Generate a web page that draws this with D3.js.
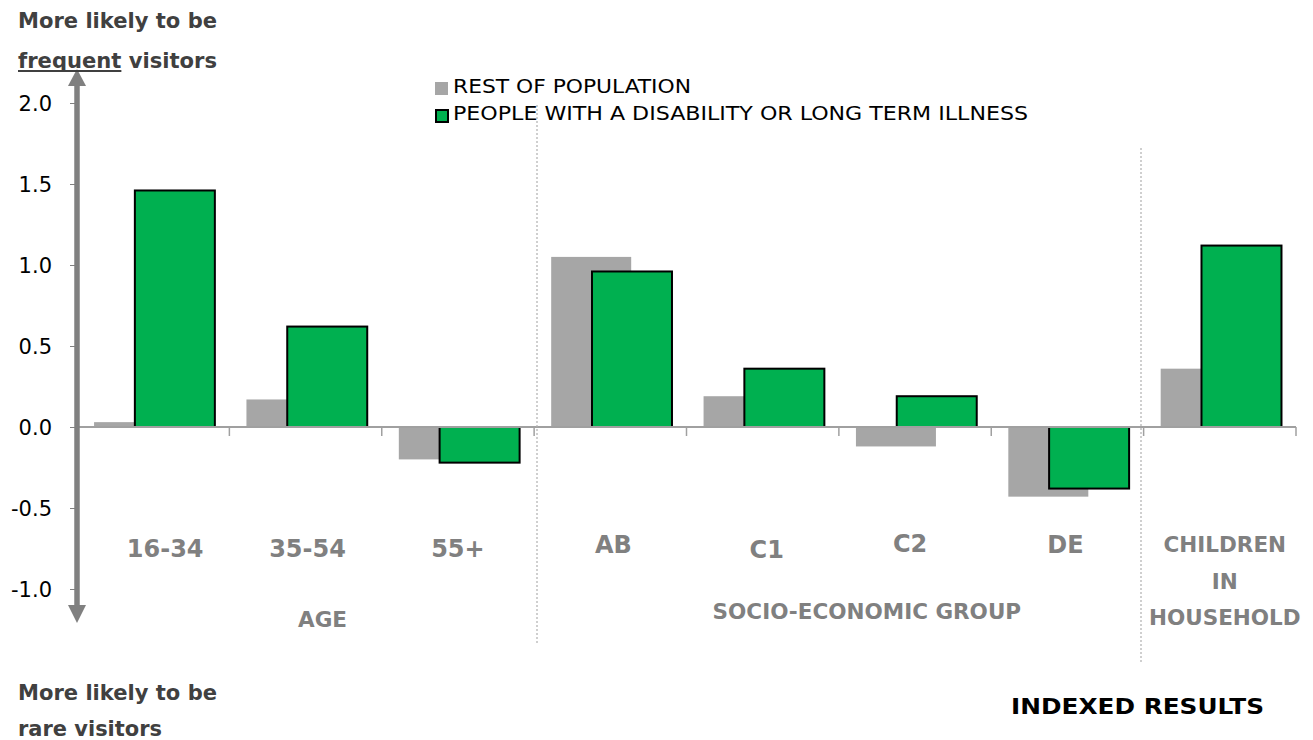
<!DOCTYPE html>
<html>
<head>
<meta charset="utf-8">
<script src="https://cdn.jsdelivr.net/npm/d3@7"></script>
<style>
  html, body { margin: 0; padding: 0; background: #fff; }
  svg { display: block; }
</style>
</head>
<body>
<svg id="chart" width="1313" height="740"></svg>
<script>
// Categories along the x axis (line breaks split with "|")
const categories = ["16-34", "35-54", "55+", "AB", "C1", "C2", "DE", "CHILDREN|IN|HOUSEHOLD"];
// Indexed scores per category
const restOfPopulation = [0.03, 0.17, -0.20, 1.05, 0.19, -0.12, -0.43, 0.36];
const disabilityOrIllness = [1.46, 0.62, -0.22, 0.96, 0.36, 0.19, -0.38, 1.12];
const seriesNames = ["REST OF POPULATION", "PEOPLE WITH A DISABILITY OR LONG TERM ILLNESS"];
const yTicks = [2.0, 1.5, 1.0, 0.5, 0.0, -0.5, -1.0];
// Group headings spanning several categories: [label, first index, last index]
const groups = [["AGE", 0, 2], ["SOCIO-ECONOMIC GROUP", 3, 6]];
// Per-category label nudges (labels sit slightly staggered)
const labelDx = [12, 2, 0, 3, 4, -5, -2, 5];
const labelDy = [0, 0, 0, -4, 1, -5, -4, 0];

const svg = d3.select("#chart");
const font = "'DejaVu Sans', Verdana, sans-serif";
const grayFill = "#a6a6a6";
const greenFill = "#00b050";
const axisGray = "#808080";

const x = d3.scaleBand().domain(categories).range([77, 1296]).paddingInner(0).paddingOuter(0);
const y = d3.scaleLinear().domain([-1.0, 2.0]).range([589, 103]);

const barW = x.bandwidth() * 0.525;
const offset = barW * 0.51;
const startPad = x.bandwidth() * 0.112;

// Rest-of-population bars (behind)
svg.append("g").selectAll("rect")
  .data(restOfPopulation)
  .join("rect")
  .attr("x", (d, i) => x(categories[i]) + startPad)
  .attr("y", d => y(Math.max(0, d)))
  .attr("width", barW)
  .attr("height", d => Math.abs(y(d) - y(0)))
  .attr("fill", grayFill);

// Disability / long-term illness bars (front)
svg.append("g").selectAll("rect")
  .data(disabilityOrIllness)
  .join("rect")
  .attr("x", (d, i) => x(categories[i]) + startPad + offset)
  .attr("y", d => y(Math.max(0, d)))
  .attr("width", barW)
  .attr("height", d => Math.abs(y(d) - y(0)))
  .attr("fill", greenFill)
  .attr("stroke", "#000")
  .attr("stroke-width", 2);

// Category axis at zero with boundary ticks
const xAxisG = svg.append("g");
xAxisG.append("line")
  .attr("x1", 77).attr("x2", 1296)
  .attr("y1", y(0)).attr("y2", y(0))
  .attr("stroke", "#a0a0a0").attr("stroke-width", 2);
const boundaries = categories.map(c => x(c) + x.bandwidth());
xAxisG.selectAll("line.tick")
  .data(boundaries)
  .join("line")
  .attr("class", "tick")
  .attr("x1", d => d).attr("x2", d => d)
  .attr("y1", y(0)).attr("y2", y(0) + 9)
  .attr("stroke", "#a0a0a0").attr("stroke-width", 1.5);

// Dotted group separators
svg.append("line")
  .attr("x1", 537).attr("x2", 537).attr("y1", 105).attr("y2", 643)
  .attr("stroke", "#b0b0b0").attr("stroke-width", 1.2).attr("stroke-dasharray", "2,2");
svg.append("line")
  .attr("x1", 1141).attr("x2", 1141).attr("y1", 148).attr("y2", 662)
  .attr("stroke", "#b0b0b0").attr("stroke-width", 1.2).attr("stroke-dasharray", "2,2");

// Value axis: labels and small ticks
const yAxis = d3.axisLeft(y).tickValues(yTicks).tickFormat(d => d.toFixed(1)).tickSize(6).tickPadding(18);
const yG = svg.append("g").attr("transform", "translate(76,0)").call(yAxis);
yG.select(".domain").remove();
yG.selectAll(".tick line").attr("stroke", axisGray);
yG.selectAll(".tick text")
  .attr("font-family", font).attr("font-size", 21).attr("fill", "#000")
  .attr("dy", "0.36em");

// Double-headed arrow along the value axis
svg.append("line")
  .attr("x1", 77).attr("x2", 77).attr("y1", 84).attr("y2", 606)
  .attr("stroke", axisGray).attr("stroke-width", 5.5);
svg.append("path")
  .attr("d", "M77,69 L68,86 L86,86 Z").attr("fill", axisGray);
svg.append("path")
  .attr("d", "M77,623 L68,605 L86,605 Z").attr("fill", axisGray);

// Category labels
categories.forEach((c, i) => {
  const lines = c.split("|");
  const cx = x(c) + x.bandwidth() / 2 + labelDx[i];
  const t = svg.append("text")
    .attr("x", cx)
    .attr("y", (lines.length > 1 ? 552 : 557) + labelDy[i])
    .attr("text-anchor", "middle")
    .attr("font-family", font).attr("font-weight", "bold")
    .attr("font-size", lines.length > 1 ? 21.5 : 24)
    .attr("fill", axisGray);
  lines.forEach((ln, k) => {
    t.append("tspan").attr("x", cx).attr("dy", k === 0 ? 0 : 36.5).text(ln);
  });
});

// Group headings
const groupDx = [17, 28];
groups.forEach(([label, a, b], gi) => {
  const cx = (x(categories[a]) + x(categories[b]) + x.bandwidth()) / 2 + groupDx[gi];
  svg.append("text")
    .attr("x", cx)
    .attr("y", a === 0 ? 627 : 619)
    .attr("text-anchor", "middle")
    .attr("font-family", font).attr("font-weight", "bold")
    .attr("font-size", 21.5).attr("fill", axisGray)
    .text(label);
});

// Legend
const legend = svg.append("g");
const legendBase = [93, 120];
legend.append("rect").attr("x", 435).attr("y", 82).attr("width", 13).attr("height", 13).attr("fill", grayFill);
legend.append("rect").attr("x", 436).attr("y", 110).attr("width", 12).attr("height", 12)
  .attr("fill", greenFill).attr("stroke", "#000").attr("stroke-width", 2);
seriesNames.forEach((n, i) => {
  legend.append("text")
    .attr("x", 453).attr("y", legendBase[i])
    .attr("font-family", "'DejaVu Sans Condensed', 'Liberation Sans Narrow', sans-serif")
    .attr("font-size", 20).attr("fill", "#000")
    .attr("textLength", i === 0 ? 238 : 575).attr("lengthAdjust", "spacingAndGlyphs")
    .text(n);
});

// Direction notes
const noteColor = "#404040";
function note(txt, yPos, width) {
  const t = svg.append("text").attr("x", 18).attr("y", yPos)
    .attr("font-family", font).attr("font-weight", "bold").attr("font-size", 21).attr("fill", noteColor)
    .text(txt);
  t.attr("textLength", width).attr("lengthAdjust", "spacingAndGlyphs");
  return t;
}
note("More likely to be", 28, 199);

const freq = svg.append("text").attr("x", 18).attr("y", 68)
  .attr("font-family", font).attr("font-weight", "bold").attr("font-size", 21).attr("fill", noteColor);
const freqWord = freq.append("tspan").text("frequent");
freq.append("tspan").text(" visitors");
const fullW = freq.node().getComputedTextLength();
const wordW = freqWord.node().getComputedTextLength();
const squeeze = 199 / fullW;
freq.attr("textLength", 199).attr("lengthAdjust", "spacingAndGlyphs");
svg.append("line").attr("x1", 18).attr("x2", 18 + wordW * squeeze).attr("y1", 71).attr("y2", 71)
  .attr("stroke", noteColor).attr("stroke-width", 2);

note("More likely to be", 700, 199);
note("rare visitors", 736, 144);

svg.append("text").attr("x", 1011).attr("y", 714)
  .attr("font-family", font).attr("font-weight", "bold").attr("font-size", 21).attr("fill", "#000")
  .attr("textLength", 253).attr("lengthAdjust", "spacingAndGlyphs")
  .text("INDEXED RESULTS");
</script>
</body>
</html>
